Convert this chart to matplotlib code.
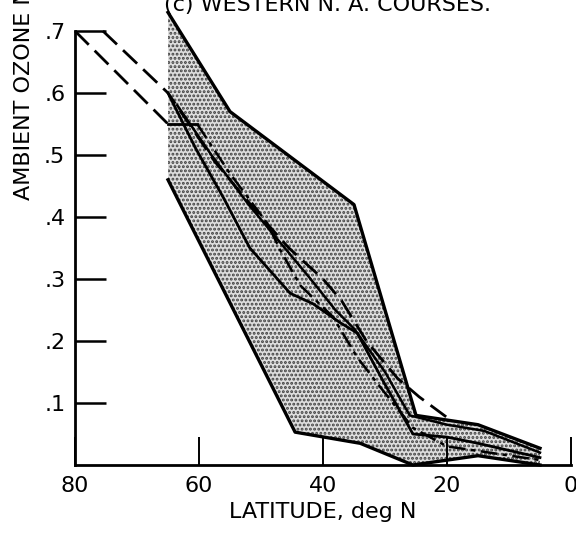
import matplotlib
matplotlib.use("Agg")
import matplotlib.pyplot as plt

plt.rcParams['font.family'] = ['DejaVu Sans']
plt.rcParams['hatch.linewidth'] = 1.4
plt.rcParams['lines.scale_dashes'] = False

# envolvente sombreada (rango de datos)
lat_sup = [65, 55, 35, 25, 15, 5]
oz_sup = [0.73, 0.57, 0.42, 0.08, 0.065, 0.027]
lat_inf = [65, 44.5, 34, 25.5, 15, 5]
oz_inf = [0.46, 0.053, 0.035, 0.0, 0.015, 0.0]

# curvas interiores
lat_larga = [75.5, 65, 57.5, 50, 45.5, 40, 37, 33, 28, 24.5, 19.5]
oz_larga = [0.70, 0.60, 0.49, 0.40, 0.35, 0.30, 0.265, 0.20, 0.14, 0.11, 0.073]

lat_s1 = [65, 60.5, 56, 51.8, 45.3, 41.6, 37.3, 34.5, 30, 25.5, 20, 15, 5]
oz_s1 = [0.60, 0.51, 0.43, 0.35, 0.277, 0.26, 0.23, 0.213, 0.13, 0.05, 0.045, 0.035, 0.012]

lat_s2 = [63.5, 58, 52, 47, 42, 38, 35, 30, 26, 20, 14, 5]
oz_s2 = [0.58, 0.50, 0.42, 0.36, 0.30, 0.25, 0.22, 0.15, 0.08, 0.065, 0.055, 0.02]

lat_ext = [80, 65]
oz_ext = [0.70, 0.55]
lat_horiz = [65, 60.3]
oz_horiz = [0.55, 0.55]

lat_pr = [60.3, 55, 49, 46.9, 43.7, 38.4, 34.5, 30.8, 25.5, 20, 5]
oz_pr = [0.55, 0.47, 0.39, 0.347, 0.29, 0.239, 0.174, 0.126, 0.06, 0.03, 0.008]

xticks = [80, 60, 40, 20, 0]
yticks = [0.1, 0.2, 0.3, 0.4, 0.5, 0.6, 0.7]
ytick_labels = ['.1', '.2', '.3', '.4', '.5', '.6', '.7']

fig = plt.figure(figsize=(5.76, 5.38), dpi=100)
ax = fig.add_axes([75 / 576, 73 / 538, 496 / 576, 434 / 538])

# banda punteada
poly_x = lat_sup + lat_inf[::-1]
poly_y = oz_sup + oz_inf[::-1]
ax.fill(poly_x, poly_y, facecolor='#dedede', edgecolor='#404040', hatch='....',
        linewidth=0, clip_on=False, zorder=1)
ax.plot(lat_sup, oz_sup, color='black', lw=2.4, clip_on=False, zorder=3)
ax.plot(lat_inf, oz_inf, color='black', lw=2.4, clip_on=False, zorder=3)

ax.plot(lat_larga, oz_larga, color='black', lw=2.0, dashes=(14, 6), clip_on=False, zorder=4)
ax.plot(lat_ext, oz_ext, color='black', lw=2.0, dashes=(14, 6), clip_on=False, zorder=4)
ax.plot(lat_horiz, oz_horiz, color='black', lw=2.0, zorder=4)
ax.plot(lat_s1, oz_s1, color='black', lw=2.0, zorder=4)
ax.plot(lat_s2, oz_s2, color='black', lw=1.8, zorder=4)
ax.plot(lat_pr, oz_pr, color='black', lw=1.8, dashes=(12, 4, 3, 4), zorder=4)

ax.set_xlim(80, 0)
ax.set_ylim(0, 0.7)
ax.set_xticks(xticks)
ax.set_xticklabels([str(v) for v in xticks])
ax.set_yticks(yticks)
ax.set_yticklabels(ytick_labels)
ax.tick_params(axis='y', direction='in', length=22, width=1.8, labelsize=16, pad=7)
ax.tick_params(axis='x', direction='in', length=20, width=1.4, labelsize=16, pad=8)

for s in ['top', 'right']:
    ax.spines[s].set_visible(False)
for s in ['left', 'bottom']:
    ax.spines[s].set_linewidth(2.0)

ax.set_xlabel('LATITUDE, deg N', fontsize=16, labelpad=4)
fig.text(24 / 576, 1 - 200 / 538, 'AMBIENT OZONE MIXING RATIO, ppmv', rotation=90,
         ha='center', va='bottom', fontsize=16)
fig.text(327 / 576, 1 - 11 / 538, '(c) WESTERN N. A. COURSES.', ha='center',
         va='baseline', fontsize=16)

fig.savefig('out.png', dpi=100)
